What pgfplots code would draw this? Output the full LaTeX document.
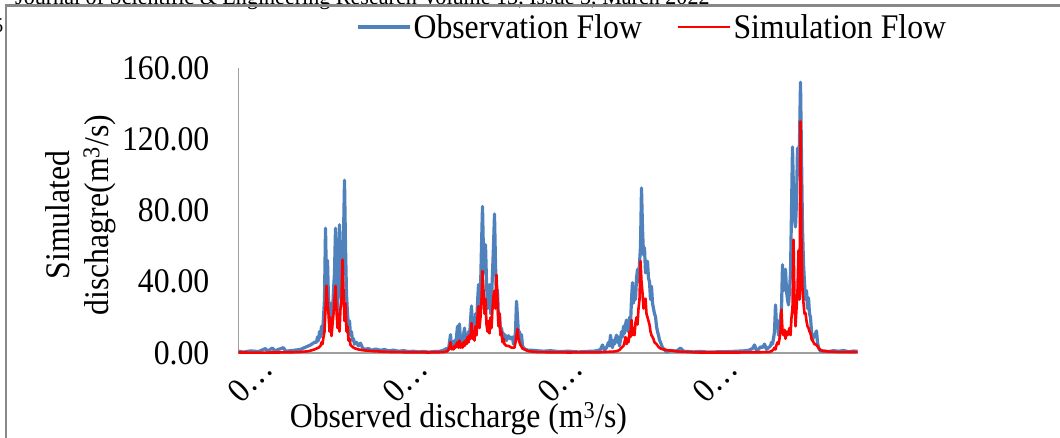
\documentclass[border=0pt]{standalone}
\usepackage{pgfplots}
\pgfplotsset{compat=1.18}
\usepackage{fontspec}
\setmainfont{Liberation Serif}[FakeStretch=0.92]
\definecolor{obsblue}{RGB}{79,129,189}
\definecolor{simred}{RGB}{255,0,0}
\definecolor{framegray}{RGB}{136,136,136}
\newcommand\cf{\fontsize{34.5bp}{39bp}\selectfont}
\begin{document}
\begin{tikzpicture}
\useasboundingbox (0,0) rectangle (1060bp,-438bp);
\clip (0,0) rectangle (1060bp,-438bp);
\fill[white] (0,0) rectangle (1060bp,-438bp);
% clipped page header and page number
\node[anchor=base west, inner sep=0pt, font=\fontsize{24bp}{27bp}\selectfont] at (15bp,-4bp)
  {Journal of Scientific \& Engineering Research Volume 13, Issue 3, March 2022};
\node[anchor=east, inner sep=0pt, font=\fontsize{21bp}{24bp}\selectfont] at (3.5bp,-26bp) {5};
\draw[framegray, line width=2.2bp] (6bp,-440bp) -- (6bp,-5.5bp) -- (1062bp,-5.5bp);
\begin{axis}[
  at={(238.5bp,-353bp)}, anchor=south west,
  scale only axis, width=619.5bp, height=285bp,
  xmin=0, xmax=619.5, ymin=0, ymax=160,
  axis x line=bottom, axis y line=left,
  axis line style={-, draw=gray!75, line width=1.3bp},
  major tick length=0pt,
  ytick={0,40,80,120,160},
  yticklabels={0.00,40.00,80.00,120.00,160.00},
  yticklabel style={font=\cf, anchor=east, inner sep=0pt, xshift=-29bp},
  xtick={12,167,322,477},
  xticklabels={0…,0…,0…,0…},
  xticklabel style={font=\cf, anchor=center, inner sep=0pt, yshift=-27bp, rotate=45},
  ylabel={Simulated\\dischagre(m\textsuperscript{3}/s)},
  ylabel style={font=\cf, at={(rel axis cs:-0.255,0.484)}, anchor=center, align=center},
  xlabel={Observed discharge (m\textsuperscript{3}/s)},
  xlabel style={font=\cf, at={(rel axis cs:0.355,-0.232)}, anchor=center},
  legend columns=2,
  legend style={at={(rel axis cs:0.19,1.144)}, anchor=west, draw=none, fill=none,
    font=\cf, inner sep=0pt,
    /tikz/every even column/.append style={column sep=33bp}},
  legend image code/.code={\draw[#1] (0bp,0bp) -- (52bp,0bp);},
  clip=false,
]
\addplot[obsblue, line width=3.2bp, line join=round] coordinates {
(0,1.0) (5,0.5) (12,1.2) (20,0.8) (27,2.5) (29,1.0) (34,2.8) (36,1.2) (45,3.0) (47,1.0)
(55,1.5) (62,2.0) (68,3.5) (72,4.5) (76,6)
(78,6) (79,9) (80,7) (81,12) (82,9) (83,15) (84,11) (85,20) (86,30) (87,70) (88,40) (89,52)
(90,30) (91,18) (92,28) (93,16) (94,22) (95,35) (96,45) (97,70) (98,35) (99,22) (100,45)
(101,72) (102,50) (103,30) (104,42) (105,65) (106,97) (107,60) (108,33) (109,22) (110,15)
(111,18) (112,10) (113,12) (114,7) (115,8) (116,5) (118,6) (120,4) (122,5.5) (124,3)
(126,2) (130,2.5) (133,1.5) (137,2.2) (142,1.5) (146,2.0) (150,1.2) (155,1.6) (160,1.0)
(165,1.3) (170,0.8) (175,1.0) (180,0.6) (185,0.9) (190,0.5) (195,0.8) (200,0.8)
(205,1.5) (208,2.5) (210,2) (211,6) (212,10.3) (213,3) (214,5) (215,3) (216,7) (217,4)
(218,9) (219,15) (220,5) (221,16.3) (222,6) (223,9) (224,5) (225,10) (226,14) (227,5)
(228,9) (229,6) (230,12) (231,8) (232,18) (233,26.4) (234,12) (235,18) (236,10) (237,22)
(238,14) (239,28) (240,38.4) (241,25) (242,35) (243,60) (244,82.3) (245,55) (246,45)
(247,60.8) (248,40) (249,25) (250,32) (251,38.4) (252,22) (253,30) (254,45) (255,60)
(256,78) (257,50) (258,30) (259,35.5) (260,18) (261,22) (262,12) (263,14) (264,9.7)
(265,11) (266,8) (267,10) (268,7) (270,9.7) (272,8) (274,9) (275,5) (276,6) (277,12)
(278,29) (279,20) (280,10) (281,12) (282,6) (283,10.3) (284,4) (285,3) (287,2) (290,1.5)
(295,1.5) (300,1.2) (305,1) (312,1.3) (320,0.8) (330,1.0) (340,0.6) (348,0.9) (355,1.0)
(360,1.5) (362,2.0) (364,4.5) (366,1.5) (368,3) (370,6) (371,4) (372,10) (373,5) (374,3)
(375,7) (376,5) (377,8) (378,10) (379,6) (380,9) (381,4) (382,8) (383,12) (384,9) (385,15)
(386,11) (387,16) (388,18.5) (389,14) (390,12) (391,20) (392,16) (393,30) (394,39.5)
(395,28) (396,35) (397,30) (398,42) (399,47) (400,40) (401,50) (402,60) (403,92.6)
(404,70) (405,55) (406,59) (407,45) (408,50) (409,51.5) (410,42) (411,40) (412,30)
(413,37.4) (414,28) (415,25) (416,22) (417,20.4) (418,15) (419,12) (420,10) (421,7.3)
(422,6) (424,3) (426,2) (428,0.5) (432,1.5) (438,1.0) (442,2.8) (445,1.0)
(450,0.8) (455,0.6) (462,0.9) (470,0.5) (480,0.7) (490,0.8) (498,1.0) (505,1.2)
(510,1.5) (512,2) (514,2.5) (516,4.5) (518,1.5) (520,2) (522,3.5) (524,3) (526,5) (528,2)
(530,3) (532,4) (533,6) (534,5) (535,8) (536,12) (537,27) (538,15) (539,18) (540,10)
(541,14) (542,20) (543,25) (544,49.6) (545,35) (546,40) (547,47) (548,35) (549,30)
(550,27) (551,35) (552,45) (553,80) (554,115.7) (555,90) (556,75) (557,70.7) (558,85)
(559,115) (560,100) (561,120) (562,152) (563,110) (564,70) (565,50) (566,39.6) (567,30)
(568,35) (569,25) (570,31) (571,22) (572,20) (573,12) (574,7) (575,10) (576,9) (577,11)
(578,12.4) (579,6) (580,3) (582,1)
(586,1.2) (590,0.8) (595,1.3) (600,1.0) (605,1.4) (610,0.7) (615,1.1) (619,1.0)
};
\addlegendentry{Observation Flow}
\addplot[simred, line width=2.6bp, line join=round] coordinates {
(0,0.3) (20,0.2) (40,0.3) (60,0.5) (70,1.0) (76,2) (80,3)
(82,4) (83,6) (84,5) (85,9) (86,12) (87,25) (88,37.8) (89,28) (90,22.4) (91,12) (92,20)
(93,9.5) (94,16) (95,22) (96,30) (97,37.6) (98,24) (99,14) (100,22) (101,12) (102,25)
(103,30) (104,52.4) (105,35) (106,18) (107,28) (108,12) (109,15) (110,7) (111,8)
(112,4.5) (113,4) (115,3) (117,2.5) (120,2) (125,1.5) (135,1.0) (150,0.6) (170,0.4)
(190,0.3) (205,0.5)
(209,1) (211,3) (212,6) (213,2) (214,3) (215,2) (216,4) (217,3) (218,5) (219,6) (220,3)
(221,7) (222,3) (223,5) (224,3) (225,6) (226,4) (227,7) (228,5) (229,9) (230,6) (231,10)
(232,8) (233,16.8) (234,8) (235,12) (236,7) (237,15) (238,10) (239,20) (240,26.2)
(241,14) (242,20) (243,30) (244,46) (245,35) (246,22) (247,30.4) (248,16) (249,12)
(250,18) (251,11) (252,20) (253,14) (254,25) (255,32) (256,35) (257,25) (258,43.8)
(259,30) (260,15) (261,22.4) (262,10) (263,12) (264,6) (265,8) (266,5) (268,4) (270,4)
(273,3) (276,3) (277,6) (278,10) (279,13.5) (280,8) (281,6) (282,4.5) (284,2.5) (286,2)
(290,1) (300,0.5) (330,0.3) (360,0.4) (375,0.8)
(378,1) (381,1.7) (383,3) (385,4) (386,6) (387,9) (388,5) (389,8) (390,6) (391,12)
(392,9) (393,18.5) (394,10) (395,14) (396,10) (397,17) (398,20) (399,16) (400,25)
(401,30) (402,51.6) (403,40) (404,33.7) (405,25) (406,30) (407,30.5) (408,22) (409,20)
(410,18) (411,15.9) (412,12) (413,10) (414,9) (415,7.8) (416,6) (418,5) (420,3.4)
(422,2.5) (425,2) (430,1.5) (440,0.8) (460,0.3) (500,0.3)
(530,0.5) (533,1) (535,2) (536,3) (537,2) (538,4.5) (539,6) (540,5) (541,8) (542,12)
(543,24.3) (544,12) (545,10) (546,13) (547,8) (548,12) (549,10) (550,12) (551,14)
(552,10) (553,20) (554,25) (555,63.6) (556,30) (557,15) (558,25) (559,35) (560,57.6)
(561,30) (562,130) (563,60) (564,35) (565,28) (566,22) (567,22.4) (568,18) (569,15)
(570,14) (571,12) (572,11) (573,8) (575,6) (576,5) (578,4.5) (580,3) (581,2) (585,1)
(600,0.5) (619,0.6)
};
\addlegendentry{Simulation Flow}
\end{axis}
\end{tikzpicture}
\end{document}
